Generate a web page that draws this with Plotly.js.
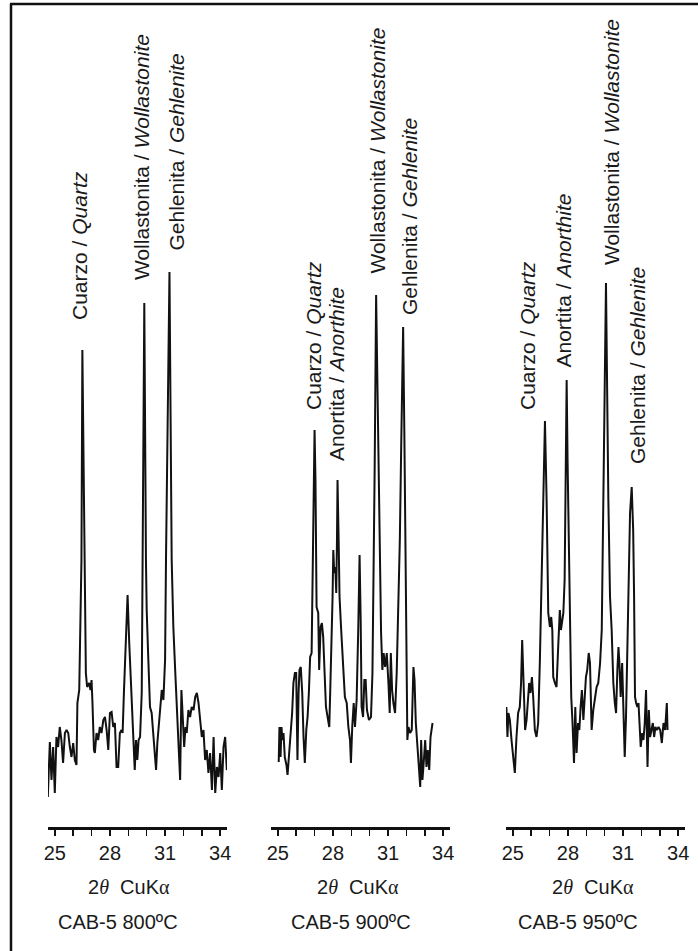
<!DOCTYPE html>
<html>
<head>
<meta charset="utf-8">
<script src="https://cdn.plot.ly/plotly-3.0.1.min.js"></script>
<style>html,body{margin:0;padding:0;background:#fff}#chart{width:698px;height:951px}</style>
</head>
<body>
<div id="chart"></div>
<script>
// ---- data: 2-theta (deg) and intensity (a.u.) ----
const tt800 = [24.54,24.62,24.73,24.82,24.91,25.00,25.09,25.18,25.27,25.36,25.45,25.55,25.64,25.73,25.82,25.91,26.00,26.09,26.18,26.23,26.33,26.40,26.45,26.50,26.60,26.64,26.69,26.76,26.87,26.94,27.00,27.05,27.13,27.18,27.27,27.36,27.45,27.54,27.64,27.73,27.82,27.91,28.00,28.09,28.18,28.27,28.36,28.45,28.54,28.63,28.69,28.76,28.87,28.96,29.05,29.13,29.20,29.27,29.35,29.42,29.49,29.56,29.64,29.73,29.78,29.87,29.96,30.00,30.09,30.18,30.27,30.36,30.45,30.51,30.58,30.65,30.73,30.82,30.91,31.00,31.05,31.24,31.36,31.45,31.55,31.64,31.73,31.82,31.89,31.96,32.04,32.11,32.18,32.27,32.36,32.45,32.55,32.64,32.73,32.82,32.91,33.00,33.09,33.18,33.27,33.36,33.45,33.55,33.64,33.73,33.82,33.91,34.00,34.09,34.18,34.27,34.36,34.45];
const i800  = [27,3,58,20,53,7,63,53,73,60,37,67,70,67,53,43,57,40,35,97,110,173,240,450,240,173,127,113,117,110,120,97,50,47,67,60,73,67,80,83,70,50,87,88,73,77,33,33,67,70,67,107,173,205,157,123,93,60,30,60,40,60,63,107,240,497,240,190,140,93,87,67,40,30,57,73,93,110,100,140,240,528,240,173,130,93,67,20,110,80,53,73,67,90,83,93,90,103,107,97,80,63,70,40,50,27,47,10,63,7,33,23,47,10,53,63,30,33];

const tt900 = [25.05,25.09,25.15,25.20,25.25,25.31,25.38,25.47,25.53,25.60,25.69,25.78,25.85,25.93,26.00,26.07,26.13,26.18,26.25,26.33,26.40,26.47,26.55,26.62,26.69,26.76,26.84,26.89,26.95,27.00,27.05,27.08,27.11,27.20,27.25,27.33,27.40,27.47,27.55,27.62,27.71,27.80,27.85,27.93,27.98,28.02,28.07,28.13,28.18,28.22,28.25,28.31,28.36,28.44,28.51,28.58,28.65,28.75,28.84,28.93,28.98,29.05,29.13,29.20,29.29,29.38,29.45,29.51,29.56,29.64,29.71,29.78,29.85,29.96,30.07,30.15,30.22,30.27,30.35,30.47,30.56,30.62,30.69,30.76,30.84,30.93,31.02,31.09,31.15,31.22,31.29,31.38,31.47,31.56,31.64,31.72,31.82,31.89,31.93,32.00,32.05,32.11,32.20,32.29,32.38,32.44,32.51,32.65,32.75,32.80,32.87,32.95,33.02,33.09,33.16,33.24,33.31,33.42];
const i900  = [38,73,43,73,60,67,43,35,25,40,60,87,117,127,127,40,107,130,133,107,63,37,70,83,107,143,147,227,330,370,320,260,193,187,130,173,177,163,120,93,83,73,107,160,203,250,227,233,207,260,320,260,203,173,147,130,103,97,73,60,37,73,97,73,100,173,245,180,93,83,120,120,90,80,83,127,220,330,505,330,227,167,130,147,133,147,117,87,147,110,97,87,127,193,260,360,473,360,260,160,60,73,67,70,133,120,77,40,13,60,20,40,60,33,50,30,63,77];

const tt950 = [24.65,24.71,24.76,24.84,24.93,25.02,25.11,25.20,25.29,25.38,25.45,25.51,25.56,25.62,25.67,25.75,25.82,25.89,25.96,26.04,26.11,26.20,26.29,26.38,26.47,26.56,26.65,26.75,26.84,26.93,27.02,27.09,27.15,27.20,27.29,27.38,27.47,27.56,27.62,27.67,27.75,27.82,27.87,27.93,27.98,28.04,28.11,28.18,28.25,28.33,28.40,28.47,28.55,28.62,28.69,28.76,28.84,28.91,28.98,29.05,29.13,29.20,29.29,29.38,29.47,29.56,29.65,29.75,29.84,29.93,30.07,30.20,30.29,30.38,30.47,30.55,30.62,30.69,30.75,30.80,30.87,30.95,31.02,31.09,31.16,31.24,31.31,31.38,31.47,31.55,31.60,31.65,31.71,31.78,31.84,31.89,31.96,32.04,32.11,32.18,32.25,32.33,32.40,32.47,32.55,32.62,32.69,32.76,32.84,32.93,33.02,33.11,33.20,33.29,33.38,33.42];
const i950  = [93,63,87,80,60,43,27,63,87,93,117,160,137,103,70,80,103,117,107,123,103,70,63,77,137,220,303,379,300,187,173,183,170,123,117,113,153,190,170,177,187,220,300,420,340,270,187,103,77,37,93,47,77,70,93,110,80,107,123,130,147,137,70,90,103,113,117,137,170,300,517,300,203,170,117,97,87,130,153,137,103,137,87,43,83,170,237,287,313,270,203,103,97,93,97,70,53,67,60,77,110,33,90,63,70,77,63,73,70,73,70,57,77,70,97,70];

const tickVals = [25,26,27,28,29,30,31,32,33,34];
const tickText = ['25','','','28','','','31','','','34'];
const axisTitle = '2<span style="font-family:\'Liberation Serif\',serif;font-style:italic">θ</span>&nbsp;&nbsp;CuK<span style="font-family:\'Liberation Serif\',serif">α</span>';
const sampleNames = ['CAB-5 800ºC','CAB-5 900ºC','CAB-5 950ºC'];
const phaseQ = 'Cuarzo / <i>Quartz</i>';
const phaseA = 'Anortita / <i>Anorthite</i>';
const phaseW = 'Wollastonita / <i>Wollastonite</i>';
const phaseG = 'Gehlenita / <i>Gehlenite</i>';

// ---- layout ----
const W = 698, H = 951;
const px = v => v / W, py = v => 1 - v / H;
const FONT = '"Liberation Sans", Arial, sans-serif';
const INK = '#1a1a1a';

const doms = [[48,227],[271,450],[506,685]];
const traces = [[tt800,i800],[tt900,i900],[tt950,i950]].map((d,k) => ({
  x: d[0], y: d[1], type: 'scatter', mode: 'lines',
  xaxis: k ? 'x' + (k+1) : 'x', yaxis: k ? 'y' + (k+1) : 'y',
  line: {color: '#111', width: 2}, hoverinfo: 'skip', showlegend: false
}));

const layout = {
  width: W, height: H, margin: {l:0, r:0, t:0, b:0},
  paper_bgcolor: '#fff', plot_bgcolor: 'rgba(0,0,0,0)',
  showlegend: false, annotations: [], shapes: []
};
doms.forEach((d,k) => {
  const sx = k ? String(k+1) : '';
  layout['xaxis' + sx] = {
    domain: [px(d[0]), px(d[1])], range: [24.63, 34.37], anchor: 'y' + sx,
    showline: true, linewidth: 3, linecolor: '#111', mirror: false,
    ticks: 'outside', ticklen: 6, tickwidth: 1.6, tickcolor: '#111',
    tickmode: 'array', tickvals: tickVals, ticktext: tickText,
    tickfont: {family: FONT, size: 20, color: INK},
    showgrid: false, zeroline: false, fixedrange: true
  };
  layout['yaxis' + sx] = {
    domain: [py(827), 1], range: [-27, 800], anchor: 'x' + sx,
    visible: false, showgrid: false, zeroline: false, fixedrange: true
  };
});

// axis captions and sample names
[[128.5,117.5],[358,350.5],[593,578]].forEach((c,k) => {
  layout.annotations.push({xref:'paper', yref:'paper', x:px(c[0]), y:py(887), text:axisTitle,
    showarrow:false, xanchor:'center', yanchor:'middle', font:{family:FONT, size:20, color:INK}});
  layout.annotations.push({xref:'paper', yref:'paper', x:px(c[1]), y:py(922), text:sampleNames[k],
    showarrow:false, xanchor:'center', yanchor:'middle', font:{family:FONT, size:20, color:INK}});
});

// phase labels (rotated)
const labels = [
  [phaseQ, 80, 246], [phaseW, 142, 157], [phaseG, 176, 152.5],
  [phaseQ, 313, 336], [phaseA, 336, 374], [phaseW, 377, 150.5], [phaseG, 409, 217],
  [phaseQ, 527, 336], [phaseA, 563, 280.5], [phaseW, 612, 142], [phaseG, 637, 366]
];
labels.forEach(l => layout.annotations.push({xref:'paper', yref:'paper', x:px(l[1]), y:py(l[2]),
  text:l[0], textangle:-90, showarrow:false, xanchor:'center', yanchor:'middle',
  font:{family:FONT, size:21, color:INK}}));

// frame (left and top edges)
layout.shapes.push({type:'line', xref:'paper', yref:'paper', x0:px(11), x1:px(11), y0:0, y1:py(4), line:{color:'#111', width:2.5}});
layout.shapes.push({type:'line', xref:'paper', yref:'paper', x0:px(10), x1:1, y0:py(4), y1:py(4), line:{color:'#111', width:2.5}});

Plotly.newPlot('chart', traces, layout, {displayModeBar:false, staticPlot:true});
</script>
</body>
</html>
